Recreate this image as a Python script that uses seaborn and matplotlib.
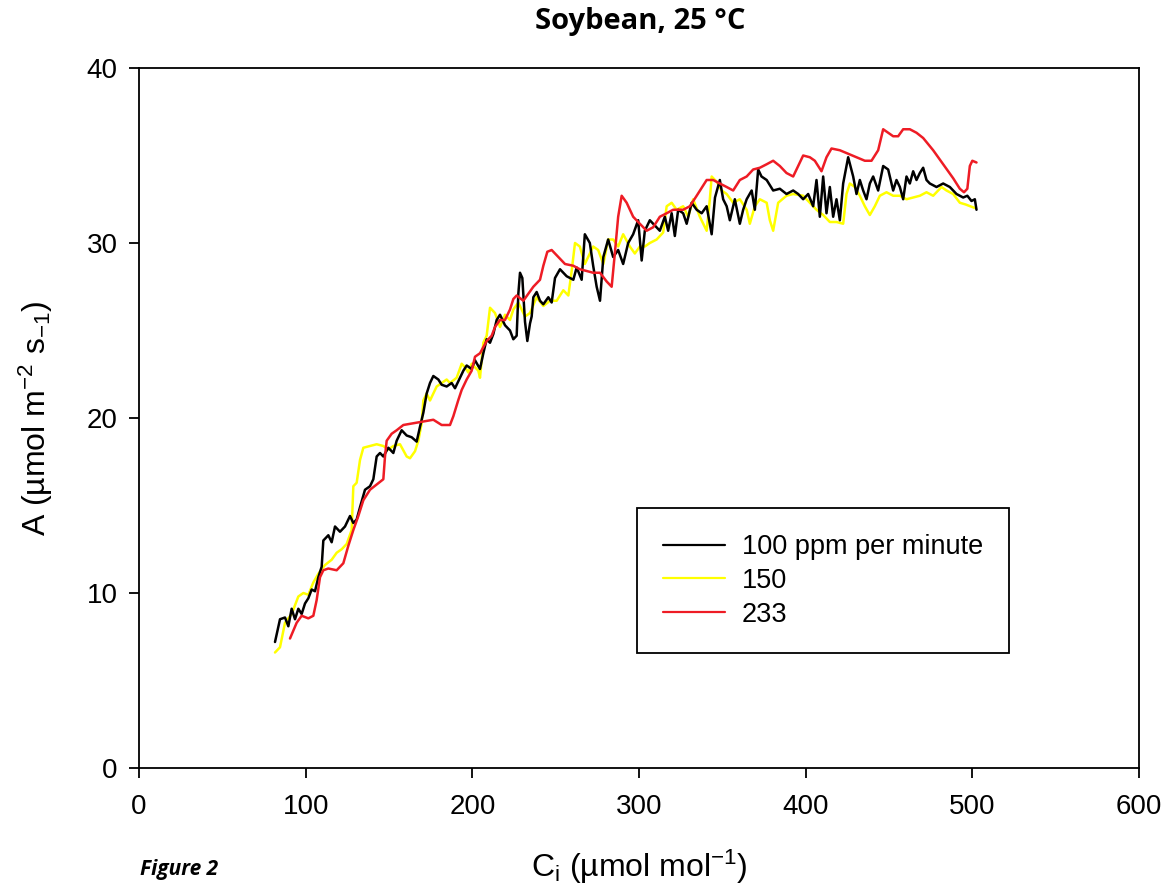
import numpy as np
import pandas as pd
import matplotlib
matplotlib.use("Agg")
import matplotlib.pyplot as plt
import seaborn as sns

# ---------------- data ----------------
series_labels = ["100 ppm per minute", "150", "233"]

ci_100 = [81.6, 84.6, 87.6, 89.6, 91.6, 93.6, 95.6, 97.6, 99.6, 101.6, 103.6, 105.6, 107.6, 109.6,
          110.6, 113.6, 115.6, 117.6, 120.6, 123.6, 126.6, 128.6, 130.6, 132.6, 135.6, 138.6, 140.6,
          142.6, 144.6, 146.6, 149.6, 152.6, 154.6, 157.6, 160.6, 163.6, 166.6, 168.6, 170.6, 172.6,
          174.6, 176.6, 179.6, 181.6, 184.6, 187.6, 189.6, 194.6, 196.6, 199.6, 201.6, 204.6, 206.6,
          208.6, 210.6, 212.6, 214.6, 216.6, 219.6, 222.6, 224.6, 226.6, 227.6, 228.6, 230.0, 231.6,
          233.0, 234.6, 235.6, 236.6, 238.6, 240.6, 242.6, 245.6, 247.6, 249.6, 252.6, 256.6, 260.6,
          262.6, 265.6, 267.5, 270.5, 272.5, 274.6, 276.6, 278.6, 281.5, 284.5, 287.5, 290.5, 293.5,
          296.5, 299.5, 301.6, 303.5, 306.5, 309.5, 312.5, 315.5, 317.5, 319.6, 321.5, 323.5, 326.5,
          328.6, 331.6, 334.6, 337.6, 340.6, 343.6, 345.6, 348.5, 350.5, 352.6, 354.5, 357.5, 360.5,
          362.5, 364.6, 367.6, 369.5, 371.5, 373.5, 376.6, 380.5, 384.5, 388.5, 392.5, 395.5, 398.5,
          401.5, 404.5, 406.5, 408.5, 410.5, 412.5, 414.5, 416.5, 418.5, 420.5, 422.5, 425.5, 428.5,
          430.5, 432.5, 434.5, 436.5, 438.5, 440.5, 443.5, 446.5, 449.5, 452.5, 454.5, 456.5, 458.5,
          460.5, 462.5, 464.5, 466.5, 468.5, 470.5, 472.5, 474.5, 478.5, 482.5, 486.5, 490.5, 494.5,
          497.0, 499.5, 501.5, 502.5]
a_100 = [7.2, 8.5, 8.6, 8.1, 9.1, 8.5, 9.1, 8.8, 9.4, 9.7, 10.2, 10.1, 10.9, 11.5,
         13.0, 13.3, 12.9, 13.8, 13.5, 13.8, 14.4, 14.0, 14.2, 14.9, 15.9, 16.1, 16.5,
         17.8, 18.0, 17.8, 18.3, 18.0, 18.7, 19.3, 19.0, 18.9, 18.65, 19.5, 20.3, 21.4,
         22.0, 22.4, 22.2, 21.9, 21.8, 22.0, 21.7, 22.7, 23.0, 22.8, 23.3, 22.8, 23.7,
         24.5, 24.3, 24.8, 25.6, 25.9, 25.3, 25.0, 24.5, 24.7, 27.1, 28.3, 28.0, 25.5,
         24.4, 25.4, 25.8, 26.9, 27.2, 26.7, 26.5, 26.9, 26.6, 28.0, 28.5, 28.1, 27.9,
         28.6, 27.9, 30.5, 30.0, 28.7, 27.5, 26.7, 29.2, 30.2, 29.2, 29.6, 28.8, 30.0,
         30.5, 31.3, 29.0, 30.7, 31.3, 31.0, 30.7, 31.5, 30.7, 31.7, 30.4, 31.9, 31.7,
         31.1, 32.3, 31.9, 31.7, 32.1, 30.5, 32.6, 33.6, 32.5, 32.1, 31.3, 32.5, 31.1,
         31.9, 32.5, 33.0, 31.9, 34.2, 33.8, 33.6, 33.0, 33.1, 32.8, 33.0, 32.8, 32.5,
         32.8, 32.1, 33.6, 31.5, 33.8, 31.7, 33.2, 31.5, 32.5, 31.3, 33.4, 34.9, 33.8,
         32.8, 33.6, 33.0, 32.5, 33.4, 33.8, 33.0, 34.4, 34.2, 33.0, 33.6, 33.2, 32.5,
         33.8, 33.4, 34.1, 33.6, 34.0, 34.3, 33.6, 33.4, 33.2, 33.4, 33.2, 32.8, 32.6,
         32.7, 32.4, 32.5, 31.9]

ci_150 = [81.6, 84.6, 87.6, 91.6, 95.6, 98.6, 101.6, 104.6, 107.6, 111.6, 115.6, 118.6, 121.6,
          124.6, 127.6, 128.6, 130.6, 132.6, 134.6, 138.6, 142.6, 146.6, 149.6, 152.6, 156.6, 160.6,
          162.6, 165.6, 167.6, 169.6, 170.6, 172.6, 174.6, 176.6, 178.6, 181.6, 184.6, 186.6, 190.6,
          193.6, 195.6, 197.6, 199.6, 203.6, 204.6, 205.6, 206.6, 208.6, 210.6, 213.6, 216.6, 219.6,
          222.6, 224.6, 227.6, 231.6, 234.6, 238.6, 242.6, 246.6, 250.6, 254.6, 257.6, 259.6, 261.6,
          264.5, 267.5, 269.5, 272.5, 275.5, 278.6, 281.5, 284.5, 287.5, 290.5, 294.5, 297.5, 300.5,
          303.5, 306.5, 310.6, 314.5, 316.6, 319.6, 322.6, 326.5, 329.5, 332.5, 336.5, 340.6, 342.5,
          343.6, 346.6, 349.6, 352.6, 356.5, 360.5, 364.6, 366.5, 369.5, 372.5, 376.6, 378.5, 380.5,
          383.5, 388.5, 392.5, 398.5, 402.5, 406.5, 410.5, 414.5, 418.5, 422.5, 424.5, 426.5, 429.5,
          432.5, 435.5, 438.5, 441.5, 444.5, 448.5, 452.5, 456.5, 460.5, 464.5, 468.5, 472.5, 476.5,
          481.5, 484.5, 488.5, 492.5, 496.0, 501.5]
a_150 = [6.6, 6.9, 8.3, 8.8, 9.8, 10.0, 9.9, 10.6, 11.1, 11.6, 11.9, 12.3, 12.5,
         12.8, 13.6, 16.1, 16.3, 17.6, 18.3, 18.4, 18.5, 18.4, 18.2, 18.4, 18.5, 17.8,
         17.7, 18.1, 18.7, 19.7, 21.0, 21.4, 21.0, 21.4, 21.8, 22.0, 22.2, 22.0, 22.3,
         23.1, 22.9, 22.6, 23.1, 22.7, 22.3, 23.3, 24.3, 24.7, 26.3, 26.0, 25.2, 25.9,
         25.6, 26.2, 26.6, 25.8, 26.0, 26.9, 26.4, 26.7, 26.7, 27.3, 27.0, 28.4, 30.0,
         29.8, 28.8, 29.2, 29.8, 29.6, 28.8, 30.2, 30.2, 29.8, 30.5, 29.8, 29.4, 29.8,
         29.8, 30.0, 30.2, 30.6, 32.1, 32.3, 31.9, 32.1, 31.5, 32.5, 31.5, 30.7, 32.5,
         33.8, 33.5, 33.0, 32.8, 32.3, 32.5, 31.9, 31.1, 32.1, 32.5, 32.3, 31.3, 30.7,
         32.3, 32.7, 32.8, 32.7, 32.3, 31.9, 31.6, 31.2, 31.2, 31.1, 32.8, 33.4, 33.2,
         32.7, 32.1, 31.6, 32.1, 32.7, 32.9, 32.7, 32.7, 32.5, 32.6, 32.7, 32.9, 32.7,
         33.2, 33.0, 32.8, 32.3, 32.2, 32.0]

ci_233 = [90.6, 94.6, 97.6, 101.6, 104.6, 106.6, 108.6, 110.6, 113.6, 118.6, 122.6, 125.6, 128.6,
          131.6, 134.6, 138.6, 142.6, 146.6, 147.6, 148.6, 151.6, 154.6, 158.6, 164.6, 170.6, 176.6,
          181.6, 186.6, 188.6, 191.5, 193.6, 196.6, 199.6, 201.6, 204.6, 208.6, 211.6, 213.6, 216.6,
          219.6, 222.6, 224.6, 226.6, 230.6, 233.6, 236.6, 240.6, 242.6, 245.0, 247.6, 251.6, 255.6,
          260.6, 264.5, 268.6, 272.5, 276.6, 280.6, 283.6, 285.5, 287.5, 289.6, 292.6, 296.5, 300.5,
          304.6, 308.5, 312.5, 316.6, 320.5, 326.5, 330.5, 334.6, 340.6, 344.5, 348.5, 352.6, 356.5,
          360.5, 364.6, 368.5, 372.5, 376.6, 380.5, 384.5, 388.5, 392.5, 395.5, 398.5, 402.5, 405.5,
          409.5, 412.5, 415.5, 420.5, 425.5, 430.5, 435.5, 439.5, 443.5, 446.5, 449.5, 452.5, 455.5,
          458.5, 462.5, 466.5, 470.5, 476.5, 482.5, 488.5, 492.5, 495.0, 497.0, 498.5, 500.0, 502.5]
a_233 = [7.4, 8.3, 8.7, 8.55, 8.7, 9.6, 10.9, 11.3, 11.4, 11.3, 11.7, 12.7, 13.6,
         14.4, 15.3, 15.9, 16.2, 16.5, 17.8, 18.7, 19.1, 19.3, 19.6, 19.7, 19.8, 19.9,
         19.6, 19.6, 20.1, 21.0, 21.6, 22.2, 22.7, 23.5, 23.7, 24.4, 24.7, 25.2, 25.6,
         25.6, 26.2, 26.8, 27.0, 26.7, 27.1, 27.5, 27.9, 28.7, 29.5, 29.6, 29.2, 28.8,
         28.7, 28.5, 28.4, 28.3, 28.3, 27.8, 27.5, 29.4, 31.5, 32.7, 32.3, 31.5, 31.1,
         30.7, 30.9, 31.5, 31.7, 31.9, 31.9, 32.1, 32.7, 33.6, 33.6, 33.4, 33.2, 33.0,
         33.6, 33.8, 34.2, 34.3, 34.5, 34.7, 34.4, 34.0, 33.8, 34.4, 35.0, 34.9, 34.7,
         34.1, 34.9, 35.4, 35.3, 35.1, 34.9, 34.7, 34.7, 35.3, 36.5, 36.3, 36.1, 36.1,
         36.5, 36.5, 36.3, 36.0, 35.3, 34.5, 33.7, 33.1, 32.9, 33.1, 34.4, 34.7, 34.6]

x_ticks = [0, 100, 200, 300, 400, 500, 600]
y_ticks = [0, 10, 20, 30, 40]

series_colors = {"100 ppm per minute": "#000000", "150": "#FFFF00", "233": "#EE1C25"}

# ---------------- long-form table ----------------
df = pd.concat([
    pd.DataFrame({"Ci": ci_100, "A": a_100, "rate": series_labels[0]}),
    pd.DataFrame({"Ci": ci_150, "A": a_150, "rate": series_labels[1]}),
    pd.DataFrame({"Ci": ci_233, "A": a_233, "rate": series_labels[2]}),
], ignore_index=True)

# ---------------- style ----------------
sns.set_style("ticks")
plt.rcParams["font.family"] = ["Liberation Sans", "DejaVu Sans"]
plt.rcParams["mathtext.default"] = "regular"
plt.rcParams["text.color"] = "black"
plt.rcParams["axes.labelcolor"] = "black"
plt.rcParams["xtick.color"] = "black"
plt.rcParams["ytick.color"] = "black"

fig = plt.figure(figsize=(11.68, 8.94), dpi=100)
ax = fig.add_axes([139 / 1168, 1 - 768 / 894, 1000 / 1168, 700 / 894])

sns.lineplot(data=df, x="Ci", y="A", hue="rate", hue_order=series_labels,
             palette=series_colors, estimator=None, sort=False, linewidth=1.8,
             legend=False, ax=ax)

zorders = {"100 ppm per minute": 3, "150": 2, "233": 4}
for line, lab in zip(ax.lines, series_labels):
    line.set_zorder(zorders[lab])
    line.set_label(lab)

ax.set_xlim(0, 600)
ax.set_ylim(0, 40)
ax.set_xticks(x_ticks)
ax.set_yticks(y_ticks)
for sp in ax.spines.values():
    sp.set_linewidth(1.3)
    sp.set_color("black")
ax.tick_params(axis="both", direction="out", length=7.5, width=1.3, colors="black",
               labelsize=20)
ax.tick_params(axis="x", pad=11)
ax.tick_params(axis="y", pad=8)

ax.set_xlabel("C$_{i}$ (\u00b5mol mol$^{-1}$)", fontsize=23, labelpad=20)
ax.set_ylabel("A (\u00b5mol m$^{-2}$ s$_{-1}$)", fontsize=23, labelpad=23)

leg = ax.legend(handles=ax.lines, labels=series_labels, loc="upper left",
                bbox_to_anchor=(0.498, 0.371), fontsize=19.5, frameon=True,
                fancybox=False, edgecolor="black", framealpha=1, borderpad=0.95,
                labelspacing=0.29, handlelength=2.3, handletextpad=0.62,
                borderaxespad=0)
leg.get_frame().set_linewidth(1.3)
for h in leg.get_lines():
    h.set_linewidth(1.6)

fig.text(640 / 1168, 1 - 22 / 894, "Soybean, 25 \u00b0C", ha="center", va="center",
         fontsize=21, fontweight="bold", color="black", family=["Open Sans", "DejaVu Sans"])
fig.text(140 / 1168, 1 - 870 / 894, "Figure 2", ha="left", va="center",
         fontsize=15, fontweight="bold", fontstyle="italic", color="black",
         family=["Open Sans", "DejaVu Sans"])

fig.savefig("out.png", dpi=100, facecolor="white")
